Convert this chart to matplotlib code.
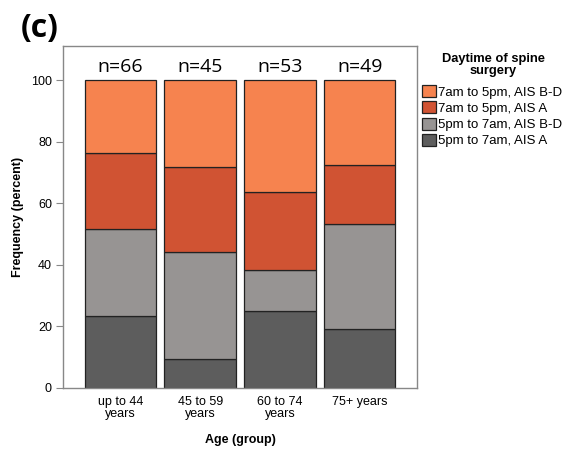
import matplotlib
matplotlib.use("Agg")
import matplotlib.pyplot as plt
import numpy as np

# Age groups and surgery-timing shares (percent of patients per group)
age_groups = ["up to 44\nyears", "45 to 59\nyears", "60 to 74\nyears", "75+ years"]
group_n = [66, 45, 53, 49]
night_ais_a = [23.3, 9.3, 25.0, 19.2]
night_ais_bd = [28.3, 34.9, 13.4, 34.0]
day_ais_a = [24.9, 27.8, 25.2, 19.2]
day_ais_bd = [23.5, 28.0, 36.4, 27.6]

series_labels = ["5pm to 7am, AIS A", "5pm to 7am, AIS B-D",
                 "7am to 5pm, AIS A", "7am to 5pm, AIS B-D"]
series_values = [night_ais_a, night_ais_bd, day_ais_a, day_ais_bd]
series_colors = ["#5d5d5d", "#979493", "#d05333", "#f6834f"]

plt.rcParams["font.family"] = ["Liberation Sans", "DejaVu Sans"]

fig = plt.figure(figsize=(5.69, 4.50), dpi=100)
ax = fig.add_axes([63 / 569, 1 - 388 / 450, 354 / 569, 342 / 450])

x = np.arange(len(age_groups))
bottom = np.zeros(len(age_groups))
handles = []
for vals, lab, col in zip(series_values, series_labels, series_colors):
    bars = ax.bar(x, vals, width=0.9, bottom=bottom, color=col,
                  edgecolor="#222222", linewidth=0.9, label=lab)
    handles.append(bars)
    bottom += np.array(vals)

for xi, n in zip(x, group_n):
    ax.text(xi, 104.5, f"n={n}", ha="center", va="center", fontsize=14,
            family=["Open Sans", "DejaVu Sans"])

ax.set_xlim(-0.72, 3.72)
ax.set_ylim(0, 111.2)
ax.set_yticks([0, 20, 40, 60, 80, 100])
ax.set_xticks(x)
ax.set_xticklabels(age_groups, fontsize=9, linespacing=0.95)
ax.tick_params(axis="y", labelsize=9, length=5, color="#888888", pad=3)
ax.tick_params(axis="x", length=0, pad=6)
for s in ax.spines.values():
    s.set_color("#888888")
    s.set_linewidth(1.0)

ax.set_ylabel("Frequency (percent)", fontsize=9, fontweight="bold", labelpad=5)
ax.set_xlabel("Age (group)", fontsize=9, fontweight="bold", labelpad=10)

fig.text(21 / 569, 1 - 29 / 450, "(c)", fontsize=23, fontweight="bold",
         va="center", ha="left", family=["Open Sans", "DejaVu Sans"])

# Legend title drawn separately so it can be centred above the entries
fig.text(493 / 569, 1 - 65 / 450, "Daytime of spine\nsurgery", fontsize=9.3,
         fontweight="bold", ha="center", va="center", multialignment="center",
         linespacing=1.0)

leg = fig.legend(handles[::-1], series_labels[::-1],
                 loc="upper left", bbox_to_anchor=(422 / 569, 1 - 85 / 450),
                 frameon=False, fontsize=9.5,
                 handlelength=1.05, handleheight=1.05, handletextpad=0.2,
                 labelspacing=0.2, borderaxespad=0, borderpad=0)

fig.savefig("out.png", dpi=100)
